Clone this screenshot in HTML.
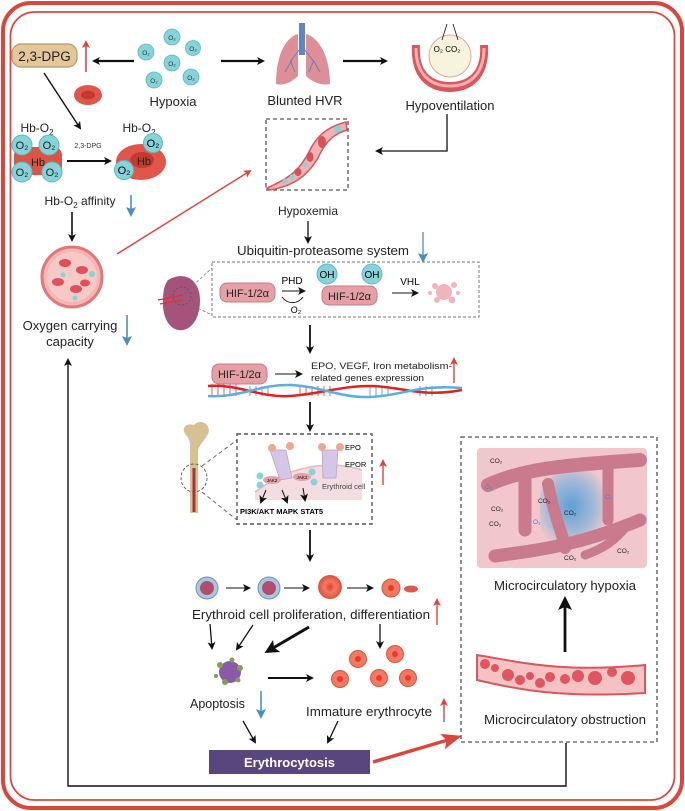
<!DOCTYPE html>
<html><head><meta charset="utf-8"><style>
html,body{margin:0;padding:0;background:#fff;}
svg{display:block;font-family:"Liberation Sans",sans-serif;}
</style></head><body>
<svg width="685" height="811" viewBox="0 0 685 811" xmlns="http://www.w3.org/2000/svg">
<defs>
<marker id="ah" markerWidth="8" markerHeight="8" refX="6" refY="4" orient="auto" markerUnits="userSpaceOnUse"><path d="M0,0 L8,4 L0,8 L2,4 z" fill="#111"/></marker>
<marker id="ahb" markerWidth="14" markerHeight="14" refX="10" refY="7" orient="auto" markerUnits="userSpaceOnUse"><path d="M0,0 L14,7 L0,14 L3,7 z" fill="#111"/></marker>
<marker id="ar" markerWidth="8" markerHeight="8" refX="6" refY="4" orient="auto" markerUnits="userSpaceOnUse"><path d="M0,0 L8,4 L0,8 L2,4 z" fill="#d9473c"/></marker>
<marker id="arb" markerWidth="20" markerHeight="16" refX="16" refY="8" orient="auto" markerUnits="userSpaceOnUse"><path d="M0,0 L20,8 L0,16 L4,8 z" fill="#d9473c"/></marker>
<marker id="abl" markerWidth="10" markerHeight="10" refX="7" refY="5" orient="auto" markerUnits="userSpaceOnUse"><path d="M0,0 L10,5 L0,10 L2,5 z" fill="#4b8fc0"/></marker>
<radialGradient id="bl" cx="0.45" cy="0.45" r="0.55"><stop offset="0" stop-color="#4f9bd6"/><stop offset="0.6" stop-color="#9bb8d8"/><stop offset="1" stop-color="#f0c8cc"/></radialGradient>
<radialGradient id="rbc"><stop offset="0" stop-color="#e83a2e"/><stop offset="0.45" stop-color="#f27a62"/><stop offset="1" stop-color="#d9533f"/></radialGradient>
</defs>

<rect x="3" y="3" width="679" height="805" rx="28" fill="none" stroke="#d9473c" stroke-width="4"/>
<rect x="10.5" y="12" width="664" height="788" rx="24" fill="none" stroke="#d9473c" stroke-width="1.8"/>

<rect x="12" y="44" width="65" height="23" rx="9" fill="#e3c79a" stroke="#b99867" stroke-width="1.2"/>
<text x="44.5" y="61" font-size="13.5" text-anchor="middle" fill="#222">2,3-DPG</text>
<line x1="86" y1="72" x2="86" y2="42" stroke="#d9473c" stroke-width="1.6" marker-end="url(#ar)"/>
<line x1="134" y1="61" x2="94" y2="61" stroke="#111" stroke-width="2.2" marker-end="url(#ah)"/>
<g fill="#86d3da" stroke="#5bb9c3" stroke-width="0.8">
<circle cx="172" cy="37" r="8"/><circle cx="193" cy="48" r="7.5"/><circle cx="146" cy="52" r="8"/>
<circle cx="172" cy="63" r="8"/><circle cx="154" cy="80" r="8"/><circle cx="191" cy="77" r="8"/></g>
<g font-size="6.5" fill="#333" text-anchor="middle">
<text x="172" y="40">O₂</text><text x="193" y="51">O₂</text><text x="146" y="55">O₂</text>
<text x="172" y="66">O₂</text><text x="154" y="83">O₂</text><text x="191" y="80">O₂</text></g>
<text x="173" y="106" font-size="13" text-anchor="middle" fill="#222">Hypoxia</text>
<ellipse cx="88" cy="95" rx="14" ry="10" fill="#e0564a"/><ellipse cx="88" cy="95" rx="7" ry="4.5" fill="#c43a30"/>
<line x1="44" y1="73" x2="80" y2="128" stroke="#111" stroke-width="1.4" marker-end="url(#ah)"/>

<text x="37" y="132" font-size="12" text-anchor="middle" fill="#222">Hb-O<tspan font-size="8" dy="3">2</tspan></text>
<text x="139" y="132" font-size="12" text-anchor="middle" fill="#222">Hb-O<tspan font-size="8" dy="3">2</tspan></text>
<rect x="14" y="147" width="48" height="28" rx="8" fill="#dd5346"/>
<g fill="#86d3da" stroke="#5bb9c3"><circle cx="22" cy="145" r="10"/><circle cx="49" cy="145" r="10"/><circle cx="22" cy="172" r="10"/><circle cx="52" cy="172" r="10"/></g>
<g font-size="11" fill="#222" text-anchor="middle"><text x="22" y="149">O₂</text><text x="49" y="149">O₂</text><text x="22" y="176">O₂</text><text x="52" y="176">O₂</text><text x="38" y="166">Hb</text></g>
<text x="88" y="148" font-size="7" text-anchor="middle" fill="#333">2,3-DPG</text>
<line x1="67" y1="161" x2="110" y2="161" stroke="#111" stroke-width="2" marker-end="url(#ah)"/>
<ellipse cx="141" cy="162" rx="25" ry="18" fill="#e0564a"/><ellipse cx="142" cy="160" rx="12" ry="8" fill="#c43a30"/>
<text x="144" y="165" font-size="11" text-anchor="middle" fill="#222">Hb</text>
<circle cx="153" cy="143" r="9.5" fill="#86d3da" stroke="#5bb9c3"/><text x="153" y="147" font-size="11" text-anchor="middle">O₂</text>
<circle cx="124" cy="170" r="9.5" fill="#86d3da" stroke="#5bb9c3"/><text x="124" y="174" font-size="11" text-anchor="middle">O₂</text>
<text x="80" y="205" font-size="12" text-anchor="middle" fill="#222">Hb-O<tspan font-size="8" dy="3">2</tspan><tspan dy="-3"> affinity</tspan></text>
<line x1="131" y1="195" x2="131" y2="214" stroke="#4b8fc0" stroke-width="1.6" marker-end="url(#abl)"/>
<line x1="72" y1="212" x2="72" y2="240" stroke="#111" stroke-width="1.6" marker-end="url(#ah)"/>
<circle cx="72" cy="277" r="30" fill="#f3b6b2" stroke="#e0787a" stroke-width="3"/>
<circle cx="72" cy="277" r="25" fill="#f6c9c6"/>
<g fill="#e0505a"><ellipse cx="65" cy="263" rx="6" ry="4"/><ellipse cx="82" cy="270" rx="6" ry="4"/><ellipse cx="58" cy="282" rx="6" ry="4"/><ellipse cx="76" cy="289" rx="6" ry="4"/><ellipse cx="85" cy="283" rx="5" ry="3.5"/></g>
<g fill="#86d3da"><circle cx="63" cy="275" r="2.5"/><circle cx="92" cy="274" r="3"/><circle cx="75" cy="298" r="2.5"/></g>
<line x1="117" y1="254" x2="250" y2="171" stroke="#d9473c" stroke-width="1.4" marker-end="url(#ar)"/>
<text x="70" y="330" font-size="13" text-anchor="middle" fill="#222">Oxygen carrying</text>
<text x="70" y="346" font-size="13" text-anchor="middle" fill="#222">capacity</text>
<line x1="127" y1="315" x2="127" y2="343" stroke="#4b8fc0" stroke-width="1.6" marker-end="url(#abl)"/>

<line x1="221" y1="61" x2="263" y2="61" stroke="#111" stroke-width="2.2" marker-end="url(#ah)"/>
<path d="M298,34 C284,38 276,58 276,84 C284,86 292,82 298,76 z" fill="#dc8f96"/>
<path d="M306,34 C320,38 330,58 330,84 C322,86 312,82 306,76 z" fill="#dc8f96"/>
<rect x="299" y="23" width="6" height="32" fill="#5f86c4"/>
<path d="M299,50 L290,62 M292,60 L285,72 M291,62 L295,72 M305,50 L314,62 M313,60 L320,72 M313,62 L309,72" stroke="#6b7db5" stroke-width="1" fill="none"/>
<text x="305" y="105" font-size="13" text-anchor="middle" fill="#222">Blunted HVR</text>
<line x1="343" y1="61" x2="386" y2="61" stroke="#111" stroke-width="2.2" marker-end="url(#ah)"/>
<circle cx="450" cy="56" r="21" fill="#f7f3dc" stroke="#e6a4a4"/>
<path d="M412,45 C410,80 430,92 450,92 C470,92 490,80 488,45 L480,45 C482,72 468,82 450,82 C432,82 418,72 420,45 z" fill="#d9575c"/>
<path d="M416,48 C416,76 432,86 450,86 C468,86 484,76 484,48" stroke="#f4b0b0" stroke-width="3" fill="none"/>
<text x="447" y="52" font-size="8" text-anchor="middle">O₂ CO₂</text>
<path d="M447,24 L442,40 M453,24 L458,40" stroke="#111" stroke-width="0.8"/>
<text x="450" y="110" font-size="13" text-anchor="middle" fill="#222">Hypoventilation</text>
<polyline points="447,114 447,151 377,151" fill="none" stroke="#111" stroke-width="1.3" marker-end="url(#ah)"/>

<rect x="266" y="119" width="82" height="71" fill="none" stroke="#555" stroke-width="1.3" stroke-dasharray="4,3"/>
<path d="M267,188 C290,178 300,170 310,150 C320,130 335,125 346,122 L347,130 C336,133 326,140 318,158 C306,178 292,186 270,190 z" fill="#f0b2b2" stroke="#d4575c" stroke-width="1.5"/>
<g fill="#d4535a"><ellipse cx="322" cy="142" rx="4" ry="6"/><ellipse cx="310" cy="157" rx="3.5" ry="5"/><ellipse cx="298" cy="172" rx="3.5" ry="4"/></g>
<g fill="#86d3da"><circle cx="338" cy="129" r="3.5"/><circle cx="305" cy="165" r="2.5"/><circle cx="292" cy="177" r="2.5"/><circle cx="285" cy="181" r="2.5"/></g>
<text x="308" y="215" font-size="12" text-anchor="middle" fill="#222">Hypoxemia</text>
<line x1="308" y1="221" x2="308" y2="242" stroke="#111" stroke-width="1.3" marker-end="url(#ah)"/>
<text x="323" y="255" font-size="13" text-anchor="middle" fill="#222" textLength="172" lengthAdjust="spacingAndGlyphs">Ubiquitin-proteasome system</text>
<line x1="423" y1="232" x2="423" y2="260" stroke="#4b8fc0" stroke-width="1.3" marker-end="url(#abl)"/>
<rect x="212" y="262" width="267" height="55" fill="none" stroke="#777" stroke-width="1" stroke-dasharray="3,2"/>
<path d="M168,280 C185,270 200,280 200,300 C200,320 190,332 178,330 C168,328 162,315 163,300 C163,290 165,284 168,280 z" fill="#a5537a"/>
<path d="M158,300 L183,295 M160,304 L182,300" stroke="#d33" stroke-width="1.2"/>
<circle cx="182" cy="296" r="9" fill="none" stroke="#555" stroke-dasharray="2,2" stroke-width="0.8"/>
<path d="M189,289 L212,268 M189,304 L212,315" stroke="#777" stroke-dasharray="3,2" stroke-width="0.8"/>
<rect x="220" y="283" width="55" height="19" rx="7" fill="#e5a0a6" stroke="#c97a85"/>
<text x="247.5" y="297" font-size="11" text-anchor="middle" fill="#222">HIF-1/2α</text>
<text x="292" y="284" font-size="10" text-anchor="middle">PHD</text>
<line x1="282" y1="291" x2="304" y2="291" stroke="#111" stroke-width="1.1" marker-end="url(#ah)"/>
<path d="M282,297 C288,305 298,304 303,297" fill="none" stroke="#111" stroke-width="0.9"/>
<text x="296" y="313" font-size="9" text-anchor="middle">O₂</text>
<rect x="322" y="286" width="55" height="19" rx="7" fill="#e5a0a6" stroke="#c97a85"/>
<text x="349.5" y="300" font-size="11" text-anchor="middle" fill="#222">HIF-1/2α</text>
<circle cx="327" cy="274" r="10" fill="#86d3da" stroke="#5bb9c3"/><text x="327" y="278" font-size="10" text-anchor="middle">OH</text>
<circle cx="372" cy="274" r="10" fill="#86d3da" stroke="#5bb9c3"/><text x="372" y="278" font-size="10" text-anchor="middle">OH</text>
<text x="410" y="285" font-size="10" text-anchor="middle">VHL</text>
<line x1="392" y1="293" x2="417" y2="293" stroke="#111" stroke-width="1.1" marker-end="url(#ah)"/>
<g fill="#f0b4bc"><circle cx="444" cy="292" r="8"/><circle cx="435" cy="286" r="3"/><circle cx="454" cy="285" r="3"/><circle cx="452" cy="300" r="3.5"/><circle cx="437" cy="300" r="3"/><circle cx="430" cy="293" r="2"/><circle cx="458" cy="293" r="2"/></g>
<line x1="310" y1="325" x2="310" y2="352" stroke="#111" stroke-width="1.8" marker-end="url(#ah)"/>

<rect x="212" y="364" width="55" height="20" rx="7" fill="#e5a0a6" stroke="#c97a85"/>
<text x="239.5" y="378" font-size="11" text-anchor="middle" fill="#222">HIF-1/2α</text>
<line x1="275" y1="374" x2="301" y2="374" stroke="#111" stroke-width="1.1" marker-end="url(#ah)"/>
<text x="311" y="369" font-size="9.5" fill="#222" textLength="141" lengthAdjust="spacingAndGlyphs">EPO, VEGF, Iron metabolism-</text>
<text x="311" y="381" font-size="9.5" fill="#222" textLength="113" lengthAdjust="spacingAndGlyphs">related genes expression</text>
<line x1="454" y1="383" x2="454" y2="359" stroke="#d9473c" stroke-width="1.4" marker-end="url(#ar)"/>
<g stroke-width="0.8">
<path d="M212,384 L212,396 M218,384 L218,396 M224,384 L224,396 M230,384 L230,396 M236,384 L236,396 M300,386 L300,396 M306,386 L306,396 M312,386 L312,396 M318,386 L318,396 M324,386 L324,396 M330,386 L330,396" stroke="#e33"/>
<path d="M250,386 L250,396 M256,386 L256,396 M262,386 L262,396 M268,386 L268,396 M370,386 L370,396 M376,386 L376,396 M382,386 L382,396 M388,386 L388,396 M420,386 L420,396 M426,386 L426,396 M432,386 L432,396" stroke="#3a8fd0"/></g>
<path d="M208,386 C240,384 260,398 290,396 C320,394 340,386 370,386 C400,386 420,398 462,390" fill="none" stroke="#e02222" stroke-width="2.5"/>
<path d="M208,396 C240,398 260,384 290,385 C320,386 340,398 370,397 C400,396 420,384 462,388" fill="none" stroke="#5aaee0" stroke-width="2.5"/>
<line x1="310" y1="402" x2="310" y2="430" stroke="#111" stroke-width="1.8" marker-end="url(#ah)"/>

<path d="M187,436 C180,430 185,422 194,425 C200,418 212,424 208,434 C205,440 200,444 198,450 L198,513 L190,513 L190,448 C190,444 190,440 187,436 z" fill="#d8c095"/>
<line x1="194" y1="468" x2="194" y2="512" stroke="#b03040" stroke-width="3"/>
<ellipse cx="194" cy="478" rx="13" ry="14" fill="none" stroke="#555" stroke-dasharray="3,2" stroke-width="0.9"/>
<path d="M202,466 L237,440 M202,492 L237,520" stroke="#666" stroke-dasharray="4,3" stroke-width="1"/>
<rect x="237" y="434" width="135" height="90" fill="none" stroke="#555" stroke-width="1.4" stroke-dasharray="4,3"/>
<path d="M255,492 C290,465 330,460 362,470 L362,500 L255,500 z" fill="#f4dde0"/>
<path d="M255,492 C290,465 330,460 362,470" fill="none" stroke="#e9b8bc" stroke-width="1.5"/>
<path d="M270,450 L280,480 L292,478 L286,450 z M322,450 L323,478 L336,478 L338,450 z" fill="#d6c6e6" stroke="#b59ccc" stroke-width="0.7"/>
<g fill="#f0a78f"><circle cx="272" cy="448" r="4"/><circle cx="290" cy="446" r="4"/><circle cx="322" cy="447" r="4"/><circle cx="340" cy="447" r="4"/></g>
<g fill="#86d3da"><circle cx="260" cy="476" r="3.5"/><circle cx="260" cy="485" r="3.5"/><circle cx="312" cy="472" r="3.5"/><circle cx="314" cy="482" r="3.5"/></g>
<ellipse cx="272" cy="480" rx="9" ry="4" fill="#e5a0a6"/><ellipse cx="302" cy="477" rx="9" ry="4" fill="#e5a0a6"/>
<text x="272" y="482" font-size="4.5" text-anchor="middle">JAK2</text><text x="302" y="479" font-size="4.5" text-anchor="middle">JAK2</text>
<text x="345" y="450" font-size="7.5">EPO</text><text x="345" y="467" font-size="7.5">EPOR</text>
<text x="322" y="489" font-size="7.5" fill="#444">Erythroid cell</text>
<line x1="266" y1="490" x2="261" y2="502" stroke="#111" marker-end="url(#ah)"/>
<line x1="282" y1="490" x2="287" y2="502" stroke="#111" marker-end="url(#ah)"/>
<line x1="303" y1="488" x2="305" y2="500" stroke="#111" marker-end="url(#ah)"/>
<text x="240" y="514" font-size="7.5" font-weight="bold">PI3K/AKT  MAPK STAT5</text>
<line x1="383" y1="485" x2="383" y2="461" stroke="#d9473c" stroke-width="1.4" marker-end="url(#ar)"/>
<line x1="310" y1="530" x2="310" y2="560" stroke="#111" stroke-width="1.8" marker-end="url(#ah)"/>

<g><circle cx="207" cy="588" r="11" fill="#a9c7e0" stroke="#6e93b5"/><circle cx="207" cy="588" r="7" fill="#b34d6e"/>
<circle cx="269" cy="588" r="11" fill="#a9c7e0" stroke="#6e93b5"/><circle cx="269" cy="588" r="7" fill="#b34d6e"/>
<circle cx="330" cy="587" r="12" fill="url(#rbc)"/>
<circle cx="391" cy="588" r="9" fill="#f27a62" stroke="#d9533f"/><circle cx="391" cy="588" r="3" fill="#e83a2e"/>
<ellipse cx="411" cy="589" rx="7" ry="3.5" fill="#e0564a"/></g>
<line x1="226" y1="588" x2="249" y2="588" stroke="#111" marker-end="url(#ah)"/>
<line x1="284" y1="588" x2="308" y2="588" stroke="#111" marker-end="url(#ah)"/>
<line x1="347" y1="588" x2="372" y2="588" stroke="#111" marker-end="url(#ah)"/>
<text x="311" y="619" font-size="13" text-anchor="middle" fill="#222" textLength="238" lengthAdjust="spacingAndGlyphs">Erythroid cell proliferation, differentiation</text>
<line x1="437" y1="625" x2="437" y2="600" stroke="#d9473c" stroke-width="1.4" marker-end="url(#ar)"/>
<line x1="210" y1="624" x2="212" y2="648" stroke="#111" stroke-width="1.3" marker-end="url(#ah)"/>
<line x1="253" y1="625" x2="237" y2="649" stroke="#111" stroke-width="1.3" marker-end="url(#ah)"/>
<line x1="309" y1="627" x2="268" y2="651" stroke="#111" stroke-width="3" marker-end="url(#ahb)"/>
<line x1="380" y1="624" x2="380" y2="647" stroke="#111" stroke-width="1.3" marker-end="url(#ah)"/>
<circle cx="230" cy="672" r="11" fill="#8a5aa8"/>
<g fill="#7fa05a"><circle cx="220" cy="665" r="3"/><circle cx="240" cy="668" r="3"/><circle cx="225" cy="682" r="3"/><circle cx="238" cy="680" r="2.5"/><circle cx="232" cy="660" r="2.5"/><circle cx="216" cy="676" r="2"/></g>
<line x1="268" y1="678" x2="312" y2="678" stroke="#111" stroke-width="2" marker-end="url(#ah)"/>
<g fill="#f27a62" stroke="#d9533f"><circle cx="358" cy="659" r="8.5"/><circle cx="395" cy="654" r="8.5"/><circle cx="340" cy="679" r="8.5"/><circle cx="379" cy="678" r="8.5"/><circle cx="408" cy="678" r="8.5"/></g>
<g fill="#e83a2e"><circle cx="358" cy="659" r="3"/><circle cx="395" cy="654" r="3"/><circle cx="340" cy="679" r="3"/><circle cx="379" cy="678" r="3"/><circle cx="408" cy="678" r="3"/></g>
<text x="190" y="708" font-size="12.5" fill="#222">Apoptosis</text>
<line x1="261" y1="691" x2="261" y2="716" stroke="#4b8fc0" stroke-width="1.6" marker-end="url(#abl)"/>
<text x="306" y="716" font-size="12.5" fill="#222" textLength="126" lengthAdjust="spacingAndGlyphs">Immature erythrocyte</text>
<line x1="444" y1="722" x2="444" y2="700" stroke="#d9473c" stroke-width="1.4" marker-end="url(#ar)"/>
<line x1="243" y1="721" x2="255" y2="742" stroke="#111" stroke-width="1.3" marker-end="url(#ah)"/>
<line x1="338" y1="721" x2="328" y2="742" stroke="#111" stroke-width="1.3" marker-end="url(#ah)"/>
<rect x="209" y="750" width="161" height="24" fill="#5a467f"/>
<text x="289.5" y="767" font-size="13" font-weight="bold" fill="#fff" text-anchor="middle">Erythrocytosis</text>
<line x1="373" y1="762" x2="458" y2="737" stroke="#d9473c" stroke-width="3.5" marker-end="url(#arb)"/>

<rect x="461" y="437" width="196" height="305" fill="none" stroke="#555" stroke-width="1.3" stroke-dasharray="4,3"/>
<rect x="477" y="448" width="170" height="120" rx="4" fill="#f1c7cc"/>
<rect x="540" y="470" width="70" height="80" rx="30" fill="url(#bl)" opacity="0.9"/>
<g fill="none" stroke="#c97a8c" stroke-linecap="round">
<path d="M488,485 C520,470 560,465 640,460" stroke-width="14"/>
<path d="M525,480 L525,530" stroke-width="13"/>
<path d="M548,484 C555,520 565,540 565,548" stroke-width="12"/>
<path d="M608,470 L608,520" stroke-width="11"/>
<path d="M495,556 C540,550 580,545 640,520" stroke-width="13"/>
<path d="M585,555 C605,548 615,540 625,528" stroke-width="9"/>
</g>
<g font-size="6.5" fill="#222">
<text x="490" y="463">CO₂</text><text x="491" y="511">CO₂</text><text x="489" y="526">CO₂</text>
<text x="538" y="503">CO₂</text><text x="564" y="515">CO₂</text><text x="564" y="560">CO₂</text><text x="617" y="553">CO₂</text></g>
<g font-size="6.5" fill="#4f7fd0"><text x="485" y="489">O₂</text><text x="533" y="524">O₂</text><text x="605" y="499">O₂</text></g>
<text x="565" y="590" font-size="13" text-anchor="middle" fill="#222" textLength="142" lengthAdjust="spacingAndGlyphs">Microcirculatory hypoxia</text>
<line x1="565" y1="652" x2="565" y2="600" stroke="#111" stroke-width="2.8" marker-end="url(#ahb)"/>
<path d="M477,655 C520,662 560,673 645,665 L645,693 C560,698 520,690 477,680 z" fill="#f4c2c2" stroke="#d9575c" stroke-width="2"/>
<g fill="#e05560"><circle cx="485" cy="664" r="5"/><circle cx="495" cy="668" r="4"/><circle cx="508" cy="675" r="6"/><circle cx="520" cy="680" r="5"/><circle cx="530" cy="676" r="4"/><circle cx="540" cy="683" r="5"/><circle cx="550" cy="677" r="5"/><circle cx="565" cy="679" r="5"/><circle cx="578" cy="676" r="6"/><circle cx="595" cy="678" r="7"/><circle cx="612" cy="672" r="5"/><circle cx="628" cy="678" r="7"/></g>
<text x="565" y="724" font-size="13" text-anchor="middle" fill="#222" textLength="162" lengthAdjust="spacingAndGlyphs">Microcirculatory obstruction</text>
<polyline points="566,743 566,786 68,786 68,360" fill="none" stroke="#111" stroke-width="1.4" marker-end="url(#ah)"/>
</svg>
</body></html>
